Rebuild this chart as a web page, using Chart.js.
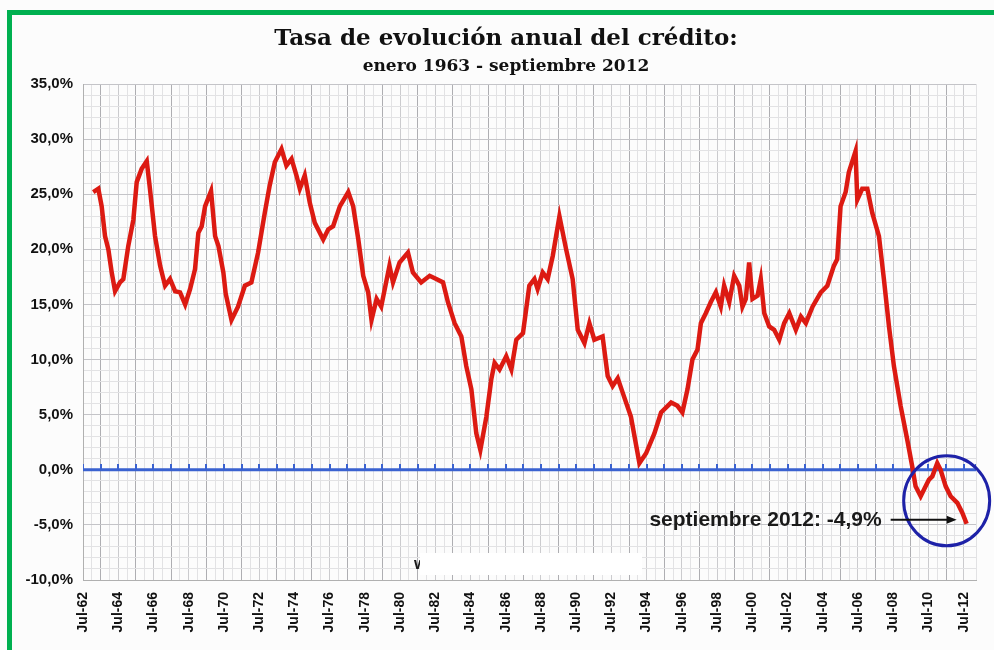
<!DOCTYPE html>
<html>
<head>
<meta charset="utf-8">
<script src="https://cdn.jsdelivr.net/npm/chart.js@4/dist/chart.umd.min.js"></script>
<style>
  html, body { margin: 0; padding: 0; background: #fcfcfc; }
  #wrap { position: relative; width: 994px; height: 650px; overflow: hidden; }
  #marco { position: absolute; left: 7px; top: 10px; width: 1000px; height: 700px;
           border-top: 5px solid #00b050; border-left: 5px solid #00b050; pointer-events: none; }
  .tit { position: absolute; left: 106px; width: 800px; text-align: center; color: #111;
         font-family: "DejaVu Serif", Georgia, serif; font-weight: bold; white-space: nowrap; }
  #titulo { top: 22px; font-size: 23px; line-height: 30px; }
  #subtitulo { top: 54px; font-size: 17px; line-height: 22px; }
</style>
</head>
<body>
<div id="wrap">
  <canvas id="grafico"></canvas>
  <div id="titulo" class="tit">Tasa de evolución anual del crédito:</div>
  <div id="subtitulo" class="tit">enero 1963 - septiembre 2012</div>
  <div id="marco"></div>
</div>
<script>
// fechas en años decimales (ene-1963 ... sep-2012), tasas en %
var fechas = [
  1963.08, 1963.37, 1963.56, 1963.75, 1963.94, 1964.13, 1964.32, 1964.60, 1964.79, 1965.07,
  1965.36, 1965.55, 1965.83, 1966.12, 1966.30, 1966.59, 1966.88, 1967.16, 1967.44, 1967.73,
  1968.01, 1968.30, 1968.58, 1968.86, 1969.05, 1969.24, 1969.43, 1969.77, 1970.00, 1970.19,
  1970.47, 1970.60, 1970.93, 1971.30, 1971.69, 1972.06, 1972.44, 1972.82, 1973.10, 1973.39,
  1973.77, 1974.05, 1974.34, 1974.62, 1974.81, 1975.09, 1975.38, 1975.66, 1976.14, 1976.42,
  1976.70, 1977.08, 1977.56, 1977.84, 1978.13, 1978.41, 1978.69, 1978.88, 1979.17, 1979.43,
  1979.90, 1980.10, 1980.47, 1980.95, 1981.23, 1981.70, 1982.18, 1982.56, 1982.94, 1983.22,
  1983.60, 1983.98, 1984.26, 1984.55, 1984.83, 1985.06, 1985.40, 1985.68, 1985.87, 1986.15,
  1986.53, 1986.82, 1987.10, 1987.48, 1987.84, 1988.13, 1988.31, 1988.60, 1988.88, 1989.17,
  1989.55, 1989.93, 1990.30, 1990.59, 1990.97, 1991.25, 1991.53, 1992.00, 1992.29, 1992.57,
  1992.86, 1993.14, 1993.61, 1994.09, 1994.47, 1994.94, 1995.32, 1995.89, 1996.25, 1996.53,
  1996.82, 1997.10, 1997.39, 1997.58, 1997.86, 1998.14, 1998.43, 1998.71, 1998.90, 1999.19,
  1999.47, 1999.76, 1999.94, 2000.13, 2000.32, 2000.51, 2000.80, 2000.98, 2001.18, 2001.46,
  2001.74, 2002.03, 2002.31, 2002.60, 2002.97, 2003.26, 2003.54, 2003.92, 2004.39, 2004.76,
  2005.13, 2005.32, 2005.51, 2005.80, 2005.98, 2006.36, 2006.46, 2006.74, 2007.03, 2007.31,
  2007.69, 2007.97, 2008.26, 2008.54, 2008.92, 2009.30, 2009.58, 2009.77, 2010.06, 2010.34,
  2010.53, 2010.72, 2011.00, 2011.19, 2011.48, 2011.76, 2012.14, 2012.42, 2012.67
];
var tasas = [
  25.2, 25.5, 23.9, 21.2, 20.0, 17.9, 16.2, 17.0, 17.3, 20.3,
  22.7, 26.1, 27.3, 28.0, 25.5, 21.2, 18.5, 16.7, 17.3, 16.2,
  16.1, 15.0, 16.4, 18.2, 21.5, 22.1, 23.9, 25.3, 21.2, 20.3,
  17.9, 16.0, 13.6, 14.8, 16.7, 17.0, 19.7, 23.3, 25.8, 27.9,
  29.1, 27.6, 28.2, 26.7, 25.5, 26.7, 24.2, 22.4, 20.9, 21.8,
  22.1, 23.9, 25.2, 23.9, 20.9, 17.6, 16.1, 13.6, 15.5, 14.8,
  18.5, 17.0, 18.8, 19.7, 17.9, 17.0, 17.6, 17.3, 17.0, 15.2,
  13.3, 12.1, 9.4, 7.3, 3.3, 1.8, 4.8, 8.2, 9.7, 9.1,
  10.3, 9.1, 11.8, 12.4, 16.7, 17.3, 16.4, 17.9, 17.3, 19.4,
  23.0, 20.0, 17.3, 12.7, 11.5, 13.3, 11.8, 12.1, 8.5, 7.6,
  8.3, 7.0, 4.8, 0.6, 1.5, 3.3, 5.2, 6.1, 5.8, 5.2,
  7.3, 10.0, 10.9, 13.3, 14.2, 15.2, 16.1, 14.8, 16.7, 15.2,
  17.6, 16.7, 14.8, 15.5, 18.8, 15.5, 15.8, 17.3, 14.2, 13.0,
  12.7, 11.8, 13.3, 14.2, 12.7, 13.9, 13.3, 14.8, 16.1, 16.7,
  18.5, 19.1, 23.9, 25.2, 27.0, 28.9, 24.5, 25.5, 25.5, 23.3,
  21.2, 17.3, 13.0, 9.4, 5.8, 2.7, 0.3, -1.5, -2.4, -1.5,
  -0.9, -0.6, 0.6, 0.0, -1.5, -2.4, -3.0, -3.9, -4.9
];
var ejeX = { min: 1962.5, max: 2013.2 };   // jul-62 ... fin del eje
var ejeY = { min: -10, max: 35 };
var nota = 'septiembre 2012: -4,9%';

var serie = fechas.map(function (f, i) { return { x: f, y: tasas[i] }; });

// linea del 0% con una marca por año (julio)
var marcas = [];
for (var a = ejeX.min; a <= 2012.5; a += 1) marcas.push({ x: a, y: 0 });
marcas.push({ x: ejeX.max, y: 0 });

var marca = document.createElement('canvas');
marca.width = 2; marca.height = 12;
var mctx = marca.getContext('2d');
mctx.fillStyle = '#3a62d0';
mctx.fillRect(0, 0, 2, 6);

function resto(v, m) { return ((v % m) + m) % m; }

var anotaciones = {
  id: 'anotaciones',
  afterDatasetsDraw: function (chart) {
    var ctx = chart.ctx, sx = chart.scales.x, sy = chart.scales.y, ca = chart.chartArea;
    var n = fechas.length - 1;
    var px = sx.getPixelForValue(fechas[n]), py = sy.getPixelForValue(tasas[n]);
    ctx.save();
    // circulo
    ctx.strokeStyle = '#1e22a8';
    ctx.lineWidth = 3;
    ctx.beginPath();
    ctx.ellipse(px - 20, py - 23, 43, 45, 0, 0, Math.PI * 2);
    ctx.stroke();
    // flecha
    var ay = py - 4, ax1 = px - 76, ax2 = px - 10;
    ctx.strokeStyle = '#111';
    ctx.fillStyle = '#111';
    ctx.lineWidth = 2;
    ctx.beginPath(); ctx.moveTo(ax1, ay); ctx.lineTo(ax2 - 8, ay); ctx.stroke();
    ctx.beginPath(); ctx.moveTo(ax2, ay); ctx.lineTo(ax2 - 10, ay - 4); ctx.lineTo(ax2 - 10, ay + 4); ctx.closePath(); ctx.fill();
    // texto
    ctx.font = 'bold 21px "Liberation Sans", Arial, sans-serif';
    ctx.textAlign = 'right';
    ctx.textBaseline = 'middle';
    ctx.fillStyle = '#1a1a1a';
    ctx.fillText(nota, ax1 - 9, ay);
    // marca de agua tapada
    ctx.textAlign = 'left';
    ctx.font = 'bold 17px "Liberation Sans", Arial, sans-serif';
    ctx.fillText('w', ca.left + 331, ca.bottom - 16);
    ctx.fillStyle = '#ffffff';
    ctx.fillRect(ca.left + 337, ca.bottom - 27, 222, 22);
    ctx.restore();
  }
};

new Chart(document.getElementById('grafico'), {
  type: 'line',
  data: {
    datasets: [
      {
        data: serie,
        borderColor: '#dc1a12',
        borderWidth: 4.5,
        pointRadius: 0,
        tension: 0,
        order: 0
      },
      {
        data: marcas,
        borderColor: '#3a62d0',
        borderWidth: 3,
        pointStyle: marca,
        pointRadius: 6,
        tension: 0,
        order: 1
      }
    ]
  },
  options: {
    responsive: true,
    maintainAspectRatio: false,
    animation: false,
    layout: { padding: { left: 8, right: 18, top: 84, bottom: 0 } },
    plugins: {
      legend: { display: false },
      tooltip: { enabled: false }
    },
    scales: {
      x: {
        type: 'linear',
        min: ejeX.min,
        max: ejeX.max,
        afterFit: function (s) { s.height = 70; s.paddingLeft = 0; s.paddingRight = 0; },
        ticks: {
          stepSize: 0.5,
          autoSkip: false,
          maxRotation: 90,
          minRotation: 90,
          padding: 12,
          color: '#111',
          font: { family: '"Liberation Sans", Arial, sans-serif', size: 14, weight: 'bold' },
          callback: function (v) {
            if (Math.abs(resto(v - 1962.5, 2)) < 0.01) {
              var yy = Math.round(v - 0.5) % 100;
              return 'Jul-' + (yy < 10 ? '0' : '') + yy;
            }
            return '';
          }
        },
        grid: {
          drawTicks: false,
          lineWidth: 1,
          color: function (c) {
            var v = c.tick ? c.tick.value : 0;
            var r = resto(v - 1962.5, 2);
            if (Math.abs(r - 1) < 0.01) return '#aeaeb2';
            if (r < 0.01 || Math.abs(r - 2) < 0.01) return '#cbcbce';
            return '#e2e2e4';
          }
        },
        border: { color: '#b0b0b0' }
      },
      y: {
        min: ejeY.min,
        max: ejeY.max,
        afterFit: function (s) { s.width = 75; },
        ticks: {
          stepSize: 1,
          autoSkip: false,
          padding: 10,
          color: '#111',
          font: { family: '"Liberation Sans", Arial, sans-serif', size: 15, weight: 'bold' },
          callback: function (v) {
            if (Math.abs(resto(v, 5)) < 0.01) return v.toFixed(1).replace('.', ',') + '%';
            return '';
          }
        },
        grid: {
          drawTicks: false,
          color: function (c) {
            var v = c.tick ? c.tick.value : 0;
            return Math.abs(resto(v, 5)) < 0.01 ? '#c4c4c8' : '#e2e2e4';
          }
        },
        border: { color: '#b0b0b0' }
      }
    }
  },
  plugins: [anotaciones]
});
</script>
</body>
</html>
